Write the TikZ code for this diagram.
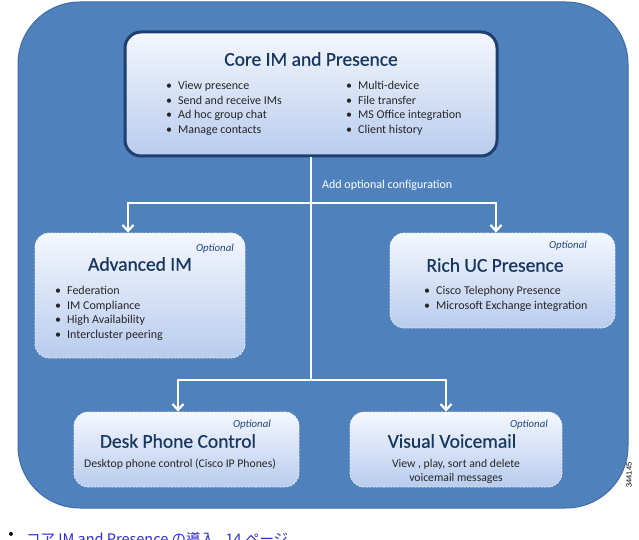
\documentclass[tikz,border=0pt]{standalone}
\usepackage{fontspec}
\setmainfont{Carlito}
\newfontfamily\ttlf[FakeBold=0.6]{Carlito}
\newfontfamily\cjk{Noto Sans CJK JP}
\newfontfamily\arialf{Liberation Sans}
\usetikzlibrary{arrows.meta}
\definecolor{bgblue}{HTML}{4F81BD}
\definecolor{bgedge}{HTML}{3F6DA3}
\definecolor{navy}{HTML}{17375E}
\definecolor{coreedge}{HTML}{1F3F6E}
\definecolor{boxtop}{HTML}{F4F7FD}
\definecolor{boxbot}{HTML}{B8CCEE}
\definecolor{txt}{HTML}{262626}
\definecolor{optc}{HTML}{1F497D}
\definecolor{linkc}{HTML}{2B2BD9}
\tikzset{
  corebox/.style={draw=coreedge, line width=3pt, rounded corners=16pt, top color=boxtop, bottom color=boxbot, inner sep=0pt},
  optbox/.style={draw=white!85!gray, dashed, dash pattern=on 2pt off 1.5pt, line width=0.8pt, rounded corners=14pt, top color=boxtop, bottom color=boxbot, inner sep=0pt},
  ttl/.style={text=navy, font=\ttlf\fontsize{19.5}{22}\selectfont, inner sep=0pt},
  lst/.style={text=txt, font=\fontsize{12}{14.6}\selectfont, align=left, inner sep=0pt, anchor=north west},
  desc/.style={text=txt, font=\fontsize{11.7}{14.8}\selectfont, align=center, inner sep=0pt},
  opt/.style={text=optc, font=\fontsize{10.8}{12}\selectfont\itshape, inner sep=0pt, anchor=east},
  conn/.style={draw=white, line width=2.6pt},
  arr/.style={conn, -{Straight Barb[length=6pt,width=11pt,line width=2.2pt]}},
}
\newcommand{\bl}{\textbullet\hspace{6pt}}
\begin{document}
\begin{tikzpicture}[x=1pt,y=-1pt]
\useasboundingbox (0,0) rectangle (639,540);
\node[draw=bgedge, line width=1pt, fill=bgblue, rounded corners=62pt, minimum width=610, minimum height=506, inner sep=0pt] (bg) at (323,255) {};

\node[corebox, minimum width=372, minimum height=124] (core) at (311,94) {};
\node[ttl] (coret) at (311,59) {Core IM and Presence};
\node[lst] (corel) at (166,81) {\bl View presence\\ \bl Send and receive IMs\\ \bl Ad hoc group chat\\ \bl Manage contacts};
\node[lst] (corer) at (346,81) {\bl Multi-device\\ \bl File transfer\\ \bl MS Office integration\\ \bl Client history};

\node[optbox, minimum width=210, minimum height=125] (adv) at (140,295.5) {};
\node[opt] (advo) at (234,249) {Optional};
\node[ttl] (advt) at (140,264) {Advanced IM};
\node[lst] (advl) at (55,286) {\bl Federation\\ \bl IM Compliance\\ \bl High Availability\\ \bl Intercluster peering};

\node[optbox, minimum width=225, minimum height=95] (rich) at (502.5,280.5) {};
\node[opt] (richo) at (587,246) {Optional};
\node[ttl] (richt) at (495,265) {Rich UC Presence};
\node[lst] (richl) at (424,286) {\bl Cisco Telephony Presence\\ \bl Microsoft Exchange integration};

\node[optbox, minimum width=225, minimum height=75] (desk) at (186.5,449.5) {};
\node[opt] (desko) at (271,425) {Optional};
\node[ttl] (deskt) at (178,441) {Desk Phone Control};
\node[desc] (deskd) at (180,464) {Desktop phone control (Cisco IP Phones)};

\node[optbox, minimum width=212, minimum height=75] (vm) at (456,449.5) {};
\node[opt] (vmo) at (548,425) {Optional};
\node[ttl] (vmt) at (452,441) {Visual Voicemail};
\node[desc] (vmd) at (456,471.5) {View , play, sort and delete\\voicemail messages};

\coordinate (j1) at (core.south |- 0,203);
\coordinate (j2) at (core.south |- 0,380);
\draw[conn] (core.south) -- (j2);
\draw[arr] (j1) -| ([xshift=-12pt]adv.north);
\draw[arr] (j1) -| ([xshift=-6.5pt]rich.north);
\draw[arr] (j2) -| ([xshift=-8.5pt]desk.north);
\draw[arr] (j2) -| ([xshift=-10pt]vm.north);
\node[text=white, font=\fontsize{12}{14}\selectfont, anchor=west, inner sep=0pt] (addl) at (322,185) {Add optional configuration};

\node[font=\arialf\fontsize{7.5}{9}\selectfont, rotate=90, inner sep=0pt] (num) at (629,475) {344145};

\node[font=\fontsize{11}{12}\selectfont, inner sep=0pt] (bul) at (11,535) {\textbullet};
\node[font=\cjk\fontsize{14.5}{16}\selectfont, text=linkc, anchor=base west, inner sep=0pt] (link) at (26,544) {コア IM and Presence の導入 , 14 ページ};
\end{tikzpicture}
\end{document}
